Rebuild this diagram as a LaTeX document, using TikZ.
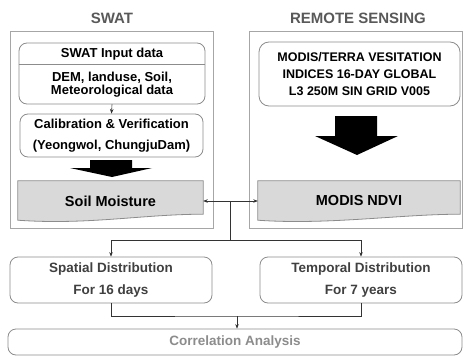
\documentclass[tikz,border=0pt]{standalone}
\usepackage{fontspec}
\setmainfont{Liberation Sans}
\usetikzlibrary{arrows.meta,backgrounds}

\definecolor{framegray}{HTML}{A6A6A6}
\definecolor{boxgray}{HTML}{8C8C8C}
\definecolor{docfill}{HTML}{D9D9D9}
\definecolor{linegray}{HTML}{333333}

\tikzset{
  frame/.style={draw=framegray, line width=0.9pt, inner sep=0pt},
  title/.style={font=\fontsize{15}{18}\selectfont\bfseries, text=black!65},
  roundbox/.style={draw=boxgray, line width=0.8pt, rounded corners=8pt, align=center, inner sep=0pt},
  boxtext/.style={font=\fontsize{13}{13.5}\selectfont\bfseries, align=center, inner sep=0pt},
  docbox/.style={align=center, inner sep=0pt, font=\fontsize{14.5}{17}\selectfont\bfseries},
  lowtext/.style={font=\fontsize{13.5}{22}\selectfont\bfseries, text=black!75},
  link/.style={draw=linegray, line width=0.6pt},
}

% grey box with a wavy lower edge, drawn round a named node
\newcommand{\docshape}[1]{%
  \filldraw[fill=docfill, draw=boxgray, line width=0.8pt]
    (#1.north west) -- (#1.north east) -- ([yshift=7pt]#1.south east)
    .. controls ([xshift=-60pt,yshift=7pt]#1.south east)
    and ([xshift=70pt,yshift=-4pt]#1.south west) .. ([yshift=1pt]#1.south west) -- cycle;}

\begin{document}
\begin{tikzpicture}[x=1pt, y=-1pt, >={Stealth[length=4.5pt,width=3.5pt]}]
    \useasboundingbox (0,0) rectangle (463,356);

    % Column frames and titles
    \node[frame, minimum width=203pt, minimum height=197pt] (swatframe) at (111.5,129.5) {};
    \node[frame, minimum width=213pt, minimum height=197pt] (rsframe) at (355.5,129.5) {};
    \node[title] (swattitle) at (112,18) {SWAT};
    \node[title] (rstitle) at (358,18) {REMOTE SENSING};

    % SWAT column
    \node[roundbox, minimum width=186pt, minimum height=61pt] (input) at (112,73.5) {};
    \node[boxtext] (inputhead) at (112,54) {SWAT Input data};
    \node[boxtext] (inputbody) at (112,84.5) {DEM, landuse, Soil,\\Meteorological data};
    \draw[boxgray, line width=0.8pt] (input.west |- 0,64) -- (input.east |- 0,64);
    \node[roundbox, minimum width=183pt, minimum height=43pt,
          font=\fontsize{13}{21}\selectfont\bfseries] (calib) at (111.5,135.5)
          {Calibration \& Verification\\(Yeongwol, ChungjuDam)};
    \draw[link,->] (input.south) -- (calib.north);
    \fill (90,160) -- (132,160) -- (132,168) -- (152,168) -- (112,177) -- (70,168) -- (90,168) -- cycle;
    \node[docbox, minimum width=185pt, minimum height=40pt] (soil) at (110.5,201) {Soil Moisture};

    % Remote sensing column
    \node[roundbox, minimum width=201pt, minimum height=64pt, rounded corners=10pt,
          font=\fontsize{12.5}{17}\selectfont\bfseries] (modis) at (359.5,74)
          {MODIS/TERRA VESITATION\\INDICES 16-DAY GLOBAL\\L3 250M SIN GRID V005};
    \fill (335,116) -- (377,116) -- (377,136) -- (398,136) -- (357,155) -- (315,136) -- (335,136) -- cycle;
    \node[docbox, minimum width=202pt, minimum height=40pt] (ndvi) at (359,201) {MODIS NDVI};

    \begin{scope}[on background layer]
      \docshape{soil}
      \docshape{ndvi}
    \end{scope}

    % Analysis boxes
    \node[roundbox, lowtext, minimum width=202pt, minimum height=46pt] (spatial) at (111,280)
          {Spatial Distribution\\For 16 days};
    \node[roundbox, lowtext, minimum width=202pt, minimum height=46pt] (temporal) at (361,280)
          {Temporal Distribution\\For 7 years};
    \node[roundbox, lowtext, text=black!45, minimum width=454pt, minimum height=26pt] (corr) at (235,342)
          {Correlation Analysis};

    % Connectors
    \coordinate (hub) at (230,201);
    \coordinate (split) at (230,240);
    \coordinate (merge) at (237,316);
    \draw[link,->] (hub) -- (soil.east);
    \draw[link,->] (hub) -- (ndvi.west);
    \draw[link] (hub) -- (split);
    \draw[link,->] (split) -| (spatial.north);
    \draw[link,->] (split) -| (temporal.north);
    \draw[link] (spatial.south) |- (merge) -| (temporal.south);
    \draw[link,->] (merge) -- (merge |- corr.north);
\end{tikzpicture}
\end{document}
